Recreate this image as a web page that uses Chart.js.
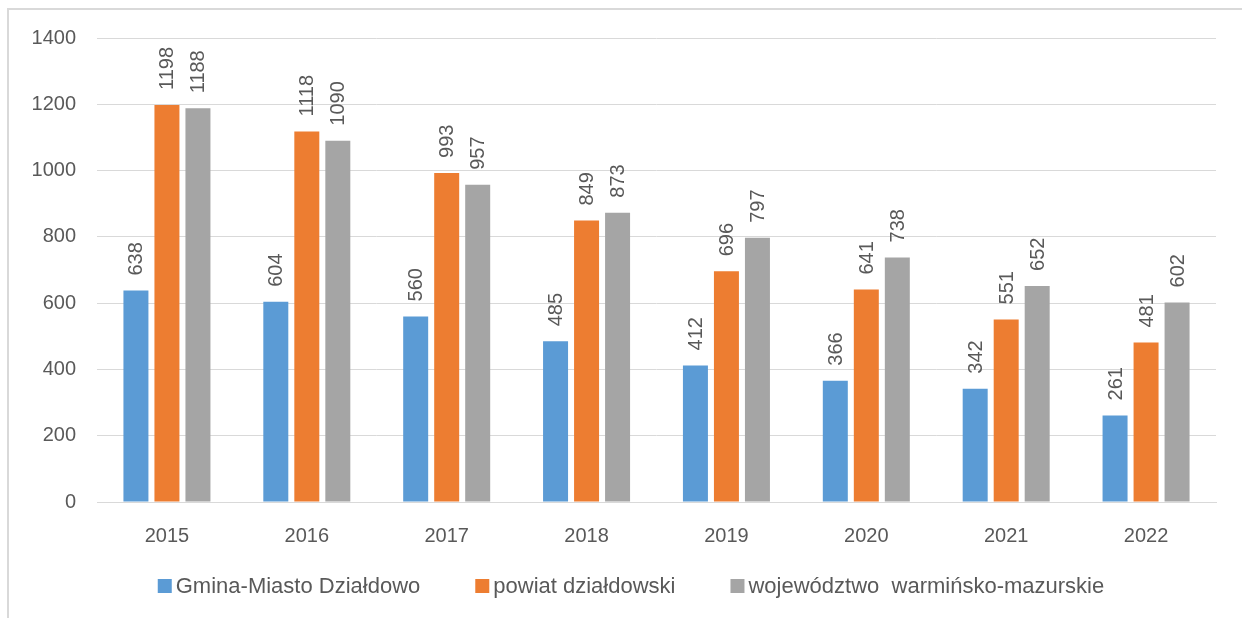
<!DOCTYPE html>
<html>
<head>
<meta charset="utf-8">
<script src="https://cdn.jsdelivr.net/npm/chart.js@4.4.1/dist/chart.umd.min.js"></script>
<style>
    html, body { margin: 0; padding: 0; background: #fff; overflow: hidden; }
    #wrap { position: relative; width: 1242px; height: 618px; }
    #frame {
        position: absolute; left: 7px; top: 8px; width: 1300px; height: 700px;
        border-left: 2px solid #d9d9d9; border-top: 2px solid #d9d9d9;
    }
    #chart { position: absolute; left: 0; top: 0; }
</style>
</head>
<body>
<div id="wrap">
    <div id="frame"></div>
    <canvas id="chart" width="1242" height="618"></canvas>
</div>
<script>
// --- Data ---
const years = ["2015", "2016", "2017", "2018", "2019", "2020", "2021", "2022"];
const seriesNames = ["Gmina-Miasto Działdowo", "powiat działdowski", "województwo  warmińsko-mazurskie"];
const gmina = [638, 604, 560, 485, 412, 366, 342, 261];
const powiat = [1198, 1118, 993, 849, 696, 641, 551, 481];
const wojewodztwo = [1188, 1090, 957, 873, 797, 738, 652, 602];
const colors = ["#5B9BD5", "#ED7D31", "#A5A5A5"];
const yTicks = [0, 200, 400, 600, 800, 1000, 1200, 1400];

const textColor = "#595959";
const fontFamily = "'Liberation Sans', Arial, sans-serif";

// --- Value labels, rotated above bars ---
const barLabels = {
    id: "barLabels",
    afterDatasetsDraw(chart) {
        const ctx = chart.ctx;
        ctx.save();
        ctx.fillStyle = textColor;
        ctx.font = "20px " + fontFamily;
        ctx.textAlign = "left";
        ctx.textBaseline = "middle";
        chart.data.datasets.forEach((ds, i) => {
            chart.getDatasetMeta(i).data.forEach((bar, j) => {
                ctx.save();
                ctx.translate(bar.x + 1, bar.y - 15);
                ctx.rotate(-Math.PI / 2);
                ctx.fillText(String(ds.data[j]), 0, 0);
                ctx.restore();
            });
        });
        ctx.restore();
    }
};

// --- Legend (drawn by hand for tight box/text spacing) ---
const bottomLegend = {
    id: "bottomLegend",
    afterDraw(chart) {
        const ctx = chart.ctx;
        const box = 14, boxGap = 4, itemGap = 55, cx = 631, cy = 587;
        ctx.save();
        ctx.font = "22px " + fontFamily;
        const widths = chart.data.datasets.map(d => ctx.measureText(d.label).width);
        let total = widths.reduce((a, w) => a + box + boxGap + w, 0) + itemGap * (widths.length - 1);
        let x = cx - total / 2;
        ctx.textBaseline = "middle";
        chart.data.datasets.forEach((d, i) => {
            ctx.fillStyle = d.backgroundColor;
            ctx.fillRect(x, cy - box / 2 - 1, box, box);
            x += box + boxGap;
            ctx.fillStyle = textColor;
            ctx.fillText(d.label, x, cy);
            x += widths[i] + itemGap;
        });
        ctx.restore();
    }
};

const data = [gmina, powiat, wojewodztwo];

new Chart(document.getElementById("chart"), {
    type: "bar",
    data: {
        labels: years,
        datasets: data.map((vals, i) => ({
            label: seriesNames[i],
            data: vals,
            backgroundColor: colors[i],
            borderWidth: 0,
            categoryPercentage: 0.665,
            barPercentage: 0.806
        }))
    },
    options: {
        responsive: false,
        animation: false,
        devicePixelRatio: 1,
        layout: { padding: { left: 0, right: 26, top: 38, bottom: 56 } },
        plugins: {
            legend: { display: false },
            tooltip: { enabled: false }
        },
        scales: {
            x: {
                grid: { display: false, drawTicks: false },
                border: { color: "#d9d9d9", width: 1 },
                ticks: { color: textColor, font: { family: fontFamily, size: 20 }, padding: 22 },
                afterFit(scale) { scale.height = 60; }
            },
            y: {
                min: 0,
                max: 1400,
                afterBuildTicks(scale) { scale.ticks = yTicks.map(v => ({ value: v })); },
                grid: { color: "#d9d9d9", lineWidth: 1, drawTicks: false },
                border: { display: false },
                ticks: {
                    color: textColor,
                    font: { family: fontFamily, size: 20 },
                    padding: 21,
                    callback: v => String(v)
                },
                afterFit(scale) { scale.width = 97; }
            }
        }
    },
    plugins: [barLabels, bottomLegend]
});
</script>
</body>
</html>
